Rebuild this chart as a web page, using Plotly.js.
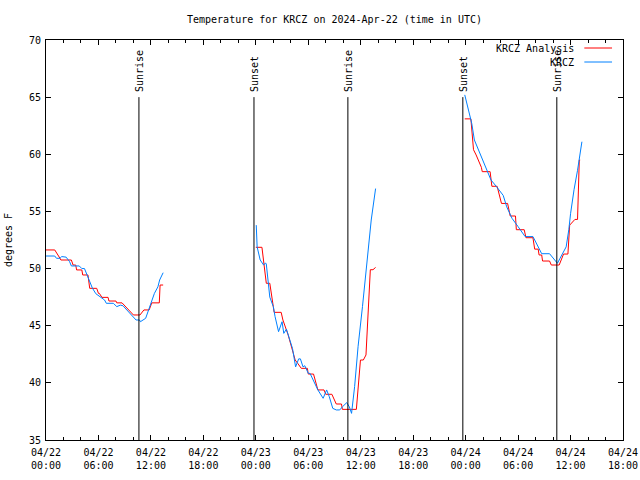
<!DOCTYPE html>
<html><head><meta charset="utf-8">
<script src="https://cdn.plot.ly/plotly-3.0.1.min.js"></script>
<style>html,body{margin:0;padding:0;background:#fff}</style>
</head><body><div id="chart" style="width:640px;height:480px"></div>
<script>
const baseTime = Date.UTC(2024, 3, 22, 0, 0, 0);
const titleText = 'Temperature for KRCZ on 2024-Apr-22 (time in UTC)';
const seriesNames = ['KRCZ Analysis', 'KRCZ'];

// hours since 2024-04-22 00:00 UTC ; null separates segments
const analysisHours = [0,1.0,1.6,1.7,2.9,3.1,3.4,3.5,4.1,4.2,4.8,5.0,5.8,6.0,6.1,6.4,7.1,7.2,8.0,8.1,8.7,10.0,10.75,11.2,11.8,12.1,12.96,13.05,13.4,
  18,
  24.0,24.7,25.2,25.6,26.0,26.1,26.9,27.1,27.7,28.5,28.8,29.2,29.9,30.0,30.6,31.1,31.8,32.0,32.7,33.2,33.8,33.9,35.5,35.97,36.3,36.6,37.1,37.4,37.7,
  42,
  47.9,48.6,48.9,49.2,49.8,49.9,50.8,51.0,51.6,51.9,52.1,52.8,53.1,53.7,53.8,54.7,54.9,55.7,55.9,56.3,56.4,56.7,56.8,57.6,57.8,58.7,59.0,59.2,59.7,59.9,60.5,60.8,61.0,61.1];
const analysisTemps = [51.63,51.63,50.9,50.75,50.75,50.31,50.31,49.88,49.88,49.44,49.44,48.27,48.27,47.83,47.83,47.48,47.48,47.16,47.16,47.0,47.0,45.94,45.94,46.38,46.38,47.0,47.0,48.56,48.56,
  null,
  51.86,51.86,48.71,48.71,46.67,46.17,46.17,45.5,44.19,42.0,41.7,41.27,41.27,40.77,40.77,39.38,39.38,39.0,39.0,38.15,38.15,37.68,37.68,42.0,42.0,42.44,49.9,49.9,50.1,
  null,
  63.1,63.1,60.4,59.94,58.86,58.48,58.48,57.2,57.2,56.23,55.7,55.7,54.6,54.6,53.4,53.4,52.7,52.7,51.7,51.7,51.19,51.19,50.66,50.66,50.31,50.31,50.9,51.27,51.27,53.8,54.3,54.3,59.5,59.5];

const obsHours = [0,1.0,1.2,1.6,1.8,2.3,2.7,2.9,3.8,4.1,4.4,4.9,5.3,5.7,6.2,6.7,6.9,7.7,8.1,8.5,8.8,10.3,10.7,10.8,11.4,11.9,12.4,12.8,13.0,13.4,
  18,
  24.05,24.15,24.5,24.9,25.1,25.2,25.6,26.0,26.2,26.6,27.0,27.2,27.5,27.8,28.2,28.55,28.9,29.1,29.4,29.6,30.0,30.2,30.6,31.1,31.7,32.1,32.4,32.8,33.2,33.6,33.9,34.4,34.7,34.95,35.3,35.7,36.2,36.7,37.2,37.7,
  42,
  47.9,48.7,49.0,49.8,50.4,50.9,51.5,52.3,52.7,53.3,54.0,54.8,55.7,56.1,56.7,57.6,58.2,58.5,58.8,59.5,59.8,60.0,60.4,60.8,61.3];
const obsTemps = [51.1,51.1,50.9,50.9,51.05,51.0,50.6,50.23,50.23,50.0,50.0,49.0,48.3,47.8,47.5,47.25,46.96,46.96,46.67,46.8,46.75,45.5,45.5,45.35,45.65,46.67,47.83,48.4,49.0,49.64,
  null,
  53.8,51.9,50.75,50.3,50.5,50.4,47.5,46.67,45.8,44.48,45.35,44.33,44.7,43.9,43.0,41.4,42.1,42.1,41.4,41.5,40.83,40.83,40.2,39.38,38.65,39.38,38.8,37.77,37.63,37.63,37.9,38.27,37.9,37.33,39.67,43.2,46.67,50.46,54.25,57.0,
  null,
  65.2,62.7,61.25,59.8,58.6,57.75,57.2,56.4,55.4,54.4,53.67,52.8,52.8,52.2,51.3,51.3,50.7,50.46,50.9,51.9,53.4,54.8,56.9,58.6,61.1];

const eventLabels = ['Sunrise','Sunset','Sunrise','Sunset','Sunrise'];
const eventHours = [10.63,23.79,34.53,47.68,58.43];
const eventTop = 65;
const eventBottom = 35;

const xTickHours = [0,6,12,18,24,30,36,42,48,54,60,66];
const xTickLabels = ['04/22<br>00:00','04/22<br>06:00','04/22<br>12:00','04/22<br>18:00','04/23<br>00:00','04/23<br>06:00','04/23<br>12:00','04/23<br>18:00','04/24<br>00:00','04/24<br>06:00','04/24<br>12:00','04/24<br>18:00'];
const yTicks = [35,40,45,50,55,60,65,70];
const yTitle = 'degrees F';

const H = 3600000;
const toMs = h => baseTime + h * H;
const FONT = 'DejaVu Sans Mono, Liberation Mono, monospace';
const red = '#ff0000', blue = '#0080ff';

const traces = [
  {x: analysisHours.map(toMs), y: analysisTemps, type: 'scatter', mode: 'lines', name: seriesNames[0],
   line: {color: red, width: 1}, connectgaps: false, showlegend: false},
  {x: obsHours.map(toMs), y: obsTemps, type: 'scatter', mode: 'lines', name: seriesNames[1],
   line: {color: blue, width: 1}, connectgaps: false, showlegend: false}
];

const shapes = eventHours.map(h => ({type: 'line', xref: 'x', yref: 'y', x0: toMs(h), x1: toMs(h),
  y0: eventBottom, y1: eventTop, line: {color: '#000', width: 1}}));
const annotations = eventHours.map((h, i) => ({x: toMs(h), y: eventTop, xref: 'x', yref: 'y',
  text: eventLabels[i], textangle: -90, showarrow: false, xanchor: 'center', yanchor: 'bottom',
  yshift: 3, font: {family: FONT, size: 10, color: '#000'}}));

// legend (gnuplot style: text right, sample line)
const legendY = [0.98, 0.945];
const legendColors = [red, blue];
seriesNames.forEach((n, i) => {
  annotations.push({xref: 'paper', yref: 'paper', x: 0.918, y: legendY[i], text: n, showarrow: false,
    xanchor: 'right', yanchor: 'middle', font: {family: FONT, size: 10, color: '#000'}});
  shapes.push({type: 'line', xref: 'paper', yref: 'paper', x0: 0.933, x1: 0.981, y0: legendY[i], y1: legendY[i],
    line: {color: legendColors[i], width: 1}});
});

const layout = {
  width: 640, height: 480,
  margin: {l: 46, r: 17, t: 40, b: 40, pad: 0},
  paper_bgcolor: '#fff', plot_bgcolor: '#fff',
  font: {family: FONT, size: 10, color: '#000'},
  title: {text: titleText, x: 0.5, xref: 'paper', y: 0.96, yref: 'container', yanchor: 'middle',
    font: {family: FONT, size: 10, color: '#000'}},
  xaxis: {type: 'date', range: [toMs(0), toMs(66)], tickmode: 'array', tickvals: xTickHours.map(toMs),
    ticktext: xTickLabels, ticks: 'inside', ticklen: 5, tickcolor: '#000', showgrid: false, zeroline: false,
    showline: true, linecolor: '#000', linewidth: 1, mirror: 'ticks', ticklabelstandoff: 3,
    minor: {tickmode: 'linear', tick0: toMs(0), dtick: 2 * H, ticks: 'inside', ticklen: 3, tickcolor: '#000', showgrid: false},
    tickfont: {family: FONT, size: 10, color: '#000'}, fixedrange: true},
  yaxis: {range: [35, 70], tickmode: 'array', tickvals: yTicks, ticks: 'inside', ticklen: 5, tickcolor: '#000',
    showgrid: false, zeroline: false, showline: true, linecolor: '#000', linewidth: 1, mirror: 'ticks',
    ticklabelstandoff: 2,
    tickfont: {family: FONT, size: 10, color: '#000'},
    title: {text: yTitle, font: {family: FONT, size: 10, color: '#000'}, standoff: 14}, automargin: false},
  shapes: shapes,
  annotations: annotations,
  showlegend: false
};

Plotly.newPlot('chart', traces, layout, {staticPlot: true, displayModeBar: false});
</script></body></html>
